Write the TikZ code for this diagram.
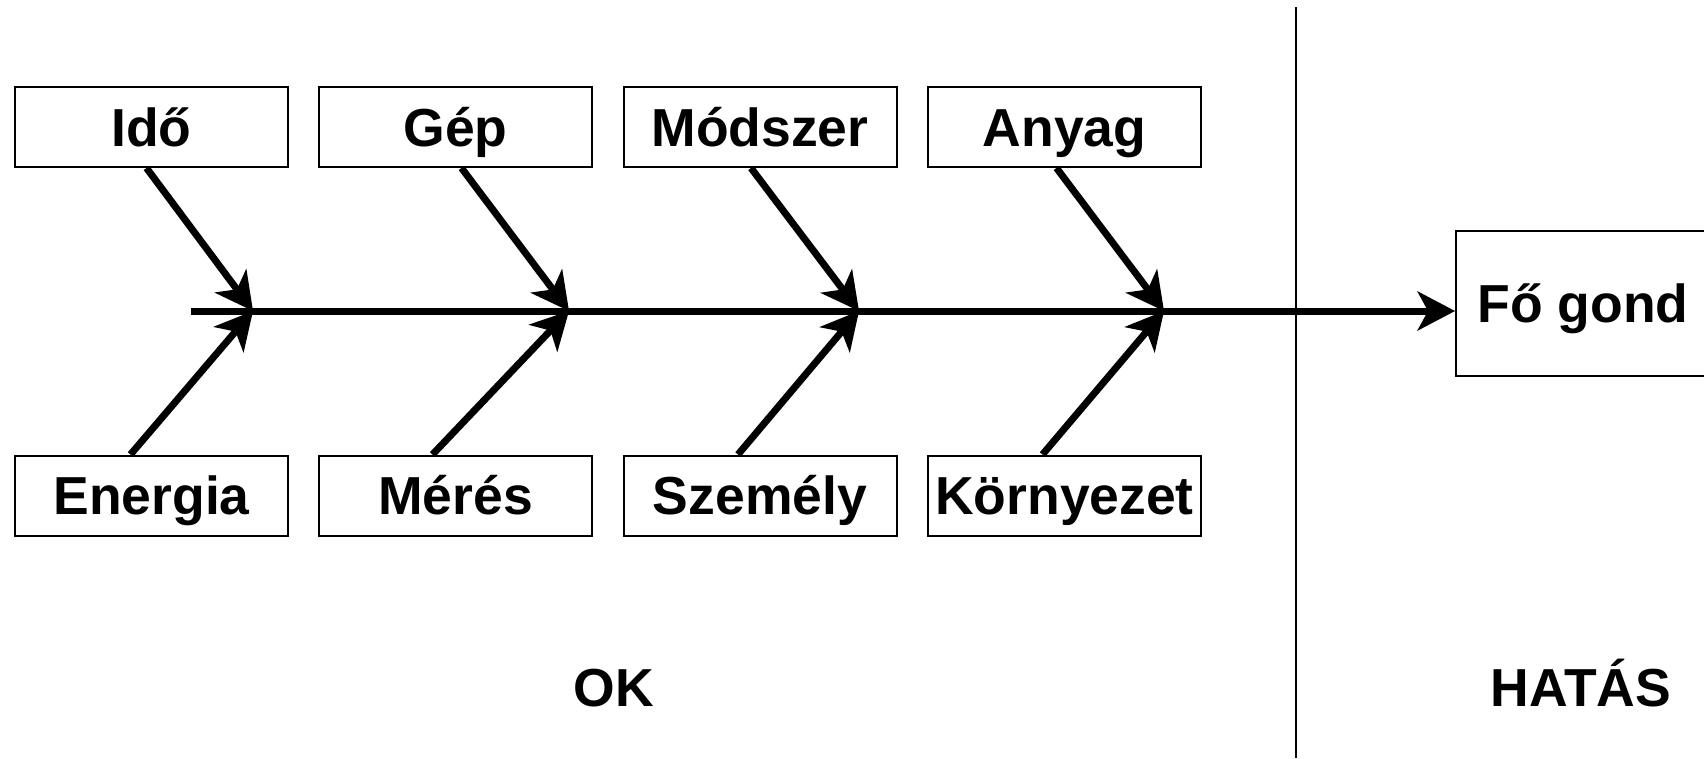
\documentclass[tikz,border=0pt]{standalone}
\usepackage{fontspec}
\setmainfont{Liberation Sans}
\usetikzlibrary{arrows.meta,calc}
\begin{document}
\begin{tikzpicture}[x=1pt,y=-1pt,
  txt/.style={font=\fontsize{53.5}{60}\selectfont\bfseries,text height=38.3pt,text depth=0pt,inner sep=0pt},
  box/.style={txt,draw,line width=2pt,minimum width=273pt,minimum height=80pt},
  tip/.style={-{Stealth[length=38pt,width=40pt,inset=11pt,line width=0pt]}},
  bone/.style={line width=7pt,tip},
  divider/.style={line width=2pt}]
\useasboundingbox (0,0) rectangle (1704,758);
% cause boxes
\node[box] (ido)  at (151.5,127) {Idő};
\node[box] (gep)  at (455.5,127) {Gép};
\node[box] (mod)  at (760,127)   {Módszer};
\node[box] (any)  at (1064.5,127) {Anyag};
\node[box] (ene)  at (151.5,495.5) {Energia};
\node[box] (mer)  at (455.5,495.5) {Mérés};
\node[box] (sze)  at (760,495.5)   {Személy};
\node[box] (kor)  at (1064.5,495.5) {Környezet};
% effect box
\node[txt,draw,line width=2pt,minimum width=254pt,minimum height=145pt] (fo) at (1583,303.5) {Fő gond};
% labels
\node[txt] (ok) at (614,687) {OK};
\node[txt] (hatas) at (1581,687) {HATÁS};
% divider
\coordinate (dtop) at (1296,7);
\coordinate (dbot) at (1296,758);
\draw[divider] (dtop) -- (dbot);
% spine
\coordinate (s0) at (191,311);
\coordinate (j1) at (253,311);
\coordinate (j2) at (569,311);
\coordinate (j3) at (859,311);
\coordinate (j4) at (1164,311);
\draw[bone] (s0) -- (s0 -| fo.west);
% branches
\draw[bone] ($(ido.south)+(-5,0)$) -- (j1);
\draw[bone] ($(gep.south)+(6,0)$) -- (j2);
\draw[bone] ($(mod.south)+(-9,0)$) -- (j3);
\draw[bone] ($(any.south)+(-8,0)$) -- (j4);
\draw[bone] ($(ene.north)+(-21,0)$) -- (j1);
\draw[bone] ($(mer.north)+(-23,0)$) -- (j2);
\draw[bone] ($(sze.north)+(-22,0)$) -- (j3);
\draw[bone] ($(kor.north)+(-22,0)$) -- (j4);
\end{tikzpicture}
\end{document}
